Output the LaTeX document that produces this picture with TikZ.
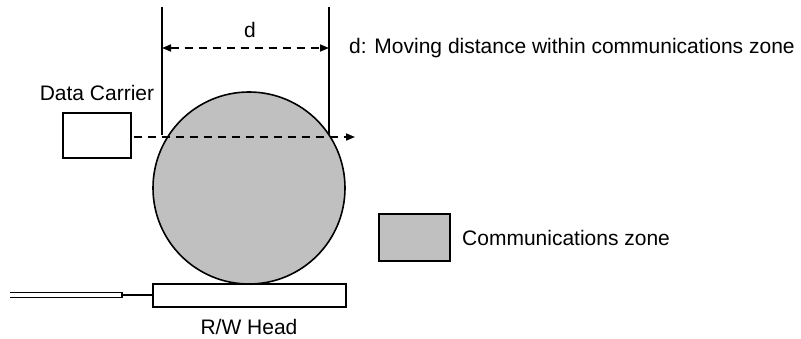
\documentclass[tikz,border=0pt]{standalone}
\usepackage{fontspec}
\setmainfont{Liberation Sans}
\usetikzlibrary{arrows.meta}
\definecolor{zonegray}{RGB}{192,192,192}
\begin{document}
\begin{tikzpicture}[x=1pt,y=-1pt,
  lw/.style={line width=1.6pt},
  box/.style={draw,lw,inner sep=0pt,anchor=north west},
  lbl/.style={font=\fontsize{21}{25}\selectfont,inner sep=0pt},
  dsh/.style={lw,dash pattern=on 8pt off 6pt}]
\useasboundingbox (0,0) rectangle (801,339);
% communications zone circle
\node[draw,lw,circle,fill=zonegray,minimum size=192pt,inner sep=0pt] (zone) at (249,188) {};
% R/W head
\node[box,minimum width=193pt,minimum height=23pt] (head) at (152,283) {};
\node[lbl] (headlbl) at (249,327) {R/W Head};
% cable
\coordinate (c1) at (10,292.5);
\coordinate (c2) at (122,292.5);
\coordinate (c3) at (122,297.5);
\coordinate (c4) at (10,297.5);
\draw[lw] (c1) -- (c2) -- (c3) -- (c4);
\draw[lw] (c2|-head.west) -- (head.west);
% data carrier
\node[box,minimum width=68pt,minimum height=45pt] (carrier) at (62,112) {};
\node[lbl] (carrierlbl) at (97,93) {Data Carrier};
% movement path
\coordinate (pathend) at (355,137);
\draw[dsh,-{Triangle[length=9pt,width=7pt]}] (carrier.east|-pathend) ++(2,0) -- (pathend);
% extension lines
\coordinate (l1) at (162,7);
\coordinate (l2) at (162,135);
\coordinate (r1) at (329,7);
\coordinate (r2) at (329,135);
\draw[lw] (l1) -- (l2);
\draw[lw] (r1) -- (r2);
% dimension line
\coordinate (dl) at (162,48);
\coordinate (dr) at (329,48);
\draw[dsh,{Triangle[length=9pt,width=7pt]}-{Triangle[length=9pt,width=7pt]}] (dl) -- (dr);
\node[lbl] (dlbl) at (250,30) {d};
\node[lbl,anchor=west] (ddesc) at (349,48) {d: Moving distance within communications zone};
% legend
\node[box,fill=zonegray,minimum width=71pt,minimum height=47pt] (legend) at (378,213) {};
\node[lbl,anchor=west] (legendlbl) at (462,238) {Communications zone};
\end{tikzpicture}
\end{document}
